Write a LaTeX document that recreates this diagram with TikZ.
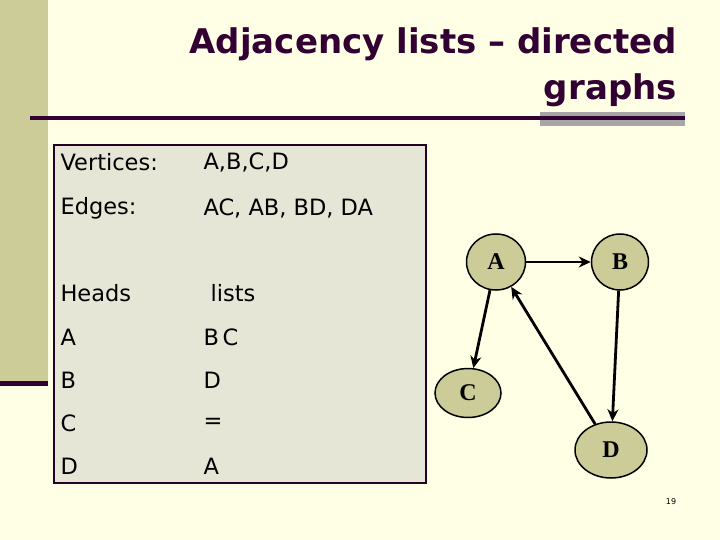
\documentclass[tikz,border=0pt]{standalone}
\usepackage{fontspec}
\setmainfont{DejaVu Sans}
\newfontfamily\serifb{Liberation Serif}
\usetikzlibrary{shapes.geometric,arrows.meta}
\definecolor{bg}{HTML}{FFFFE6}
\definecolor{olive}{HTML}{CCCC99}
\definecolor{dpurple}{HTML}{330033}
\definecolor{boxfill}{HTML}{E6E6D6}
\definecolor{nodefill}{HTML}{CCCC99}
\tikzset{
 vert/.style={ellipse,draw=black,line width=1.5pt,fill=nodefill,font=\serifb\bfseries\fontsize{24}{24}\selectfont},
 edge/.style={line width=2.8pt,-{Stealth[length=12pt,width=11pt]}},
 body/.style={anchor=west,font=\fontsize{22.5}{22.5}\selectfont,text=black},
}
\begin{document}
\begin{tikzpicture}[x=1pt,y=-1pt]
\fill[bg] (0,0) rectangle (720,540);
\useasboundingbox (0,0) rectangle (720,540);
\fill[olive] (0,0) rectangle (48,385);
\fill[dpurple] (0,381) rectangle (48,386);
\fill[gray!70] (540,112) rectangle (685,126);
\fill[dpurple] (30,116) rectangle (685,120);
\node[anchor=north east,align=right,text=dpurple,font=\bfseries\fontsize{34}{46}\selectfont,inner sep=0pt] (title) at (677,27) {Adjacency lists -- directed\\graphs};
\draw[fill=boxfill,draw=dpurple!70!black,line width=1.3pt] (54,145) rectangle (426,483);
\node[body] (l1) at (57,162) {Vertices:};
\node[body] (r1) at (200,162) {A,B,C,D};
\node[body] (l2) at (57,208) {Edges:};
\node[body] (r2) at (200,208) {AC, AB, BD, DA};
\node[body] (l3) at (57,293) {Heads};
\node[body] (r3) at (207,293) {lists};
\node[body] (l4) at (57,337) {A};
\node[body] (r4) at (200,337) {B\,C};
\node[body] (l5) at (57,380) {B};
\node[body] (r5) at (200,380) {D};
\node[body] (l6) at (57,423) {C};
\node[body] (r6) at (200,423) {=};
\node[body] (l7) at (57,466) {D};
\node[body] (r7) at (200,466) {A};
\node[vert,minimum width=59pt,minimum height=56pt] (A) at (496,262) {A};
\node[vert,minimum width=57pt,minimum height=56pt] (B) at (620,262) {B};
\node[vert,minimum width=66pt,minimum height=49pt] (C) at (468,393) {C};
\node[vert,minimum width=72pt,minimum height=56pt] (D) at (611,450) {D};
\draw[edge] (A) -- (B);
\draw[edge] (A) -- (C);
\draw[edge] (B) -- (D);
\draw[edge] (D) -- (A);
\node[font=\fontsize{8}{8}\selectfont] (pg) at (671,502) {19};
\end{tikzpicture}
\end{document}
